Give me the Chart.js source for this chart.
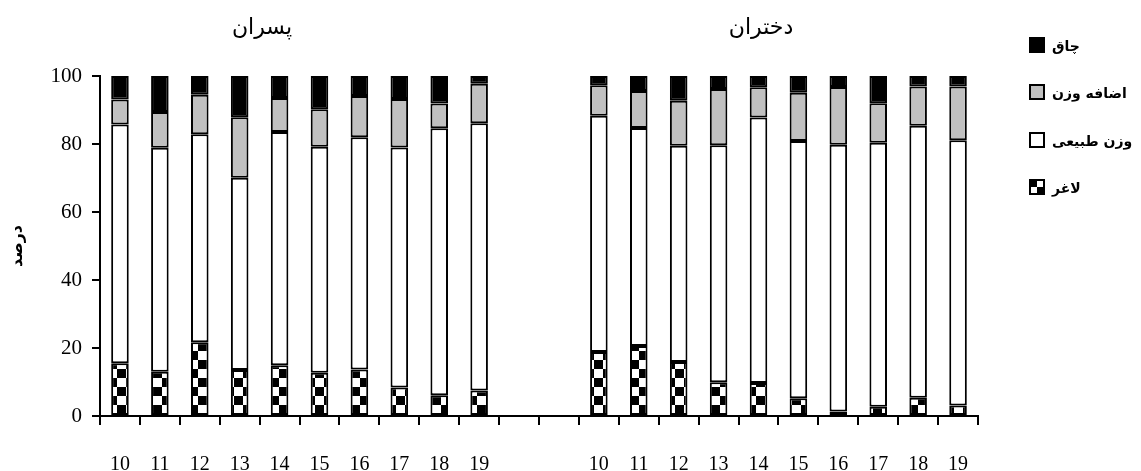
<!DOCTYPE html>
<html>
<head>
<meta charset="utf-8">
<script src="https://cdn.jsdelivr.net/npm/chart.js@4.4.0/dist/chart.umd.min.js"></script>
<style>
  html, body { margin: 0; padding: 0; background: #fff; }
  #wrap { width: 1141px; height: 471px; }
</style>
</head>
<body>
<div id="wrap"><canvas id="myChart"></canvas></div>
<script>
// age groups (same for both halves), two empty slots between the halves
const ages = ['10', '11', '12', '13', '14', '15', '16', '17', '18', '19'];
const gapLabels = ['', ''];

// boys (پسران), percent per segment
const boysThin = [15.5, 13.0, 21.7, 13.5, 14.9, 12.7, 13.7, 8.4, 6.1, 7.5];
const boysNormal = [70.2, 65.9, 61.2, 56.6, 68.6, 66.5, 68.3, 70.6, 78.5, 78.6];
const boysOver = [7.4, 10.5, 11.6, 17.8, 10.0, 11.0, 12.1, 14.2, 7.3, 11.6];
const boysObese = [6.9, 10.6, 5.5, 12.1, 6.5, 9.8, 5.9, 6.8, 8.1, 2.3];

// girls (دختران)
const girlsThin = [18.8, 20.6, 15.9, 9.9, 9.7, 5.2, 1.3, 2.7, 5.4, 3.1];
const girlsNormal = [69.5, 64.1, 63.6, 69.7, 78.1, 75.7, 78.5, 77.7, 80.0, 78.0];
const girlsOver = [9.0, 10.9, 13.2, 16.6, 8.9, 14.2, 17.0, 11.6, 11.5, 15.8];
const girlsObese = [2.7, 4.4, 7.3, 3.8, 3.3, 4.9, 3.2, 8.0, 3.1, 3.1];

const yTicks = [0, 20, 40, 60, 80, 100];
const groupTitles = ['پسران', 'دختران'];
const seriesNames = ['لاغر', 'وزن طبیعی', 'اضافه وزن', 'چاق'];

const labels = [...ages, ...gapLabels, ...ages];
const join = (b, g) => [...b, null, null, ...g];

const arabicFont = "'DejaVu Sans', sans-serif";
const numFont = "'Liberation Serif', serif";

// checkerboard fill for the underweight segment
function makeChecker(size) {
  const c = document.createElement('canvas');
  c.width = size * 2;
  c.height = size * 2;
  const g = c.getContext('2d');
  g.fillStyle = '#fff';
  g.fillRect(0, 0, size * 2, size * 2);
  g.fillStyle = '#000';
  g.fillRect(0, 0, size, size);
  g.fillRect(size, size, size, size);
  return c;
}

const ctx = document.getElementById('myChart');
const checker = ctx.getContext('2d').createPattern(makeChecker(9), 'repeat');

const fills = [checker, '#ffffff', '#c0c0c0', '#000000'];

// titles above each group + legend on the right
const extras = {
  id: 'extras',
  afterDraw(chart) {
    const c = chart.ctx;
    c.save();
    c.fillStyle = '#000';
    c.textAlign = 'center';
    c.textBaseline = 'middle';
    c.font = '22px ' + arabicFont;
    c.fillText(groupTitles[0], 262, 28);
    c.fillText(groupTitles[1], 761, 28);

    const rows = [45, 92, 140, 187];
    c.font = 'bold 14px ' + arabicFont;
    c.textAlign = 'left';
    for (let i = 0; i < 4; i++) {
      const k = 3 - i;
      const y = rows[i];
      const x = 1030;
      if (k === 0) {
        c.fillStyle = '#fff';
        c.fillRect(x, y - 7, 14, 14);
        c.fillStyle = '#000';
        c.fillRect(x, y - 7, 7, 7);
        c.fillRect(x + 7, y, 7, 7);
      } else {
        c.fillStyle = fills[k];
        c.fillRect(x, y - 7, 14, 14);
      }
      c.strokeStyle = '#000';
      c.lineWidth = 2;
      c.strokeRect(x, y - 7, 14, 14);
      c.fillStyle = '#000';
      c.fillText(seriesNames[k], 1052, y + 2);
    }
    c.restore();
  }
};

new Chart(ctx, {
  type: 'bar',
  data: {
    labels: labels,
    datasets: [
      { label: seriesNames[0], data: join(boysThin, girlsThin), backgroundColor: checker },
      { label: seriesNames[1], data: join(boysNormal, girlsNormal), backgroundColor: '#ffffff' },
      { label: seriesNames[2], data: join(boysOver, girlsOver), backgroundColor: '#c0c0c0' },
      { label: seriesNames[3], data: join(boysObese, girlsObese), backgroundColor: '#000000' },
    ].map(d => ({
      ...d,
      borderColor: '#000',
      borderWidth: 2,
      borderSkipped: false,
      barPercentage: 0.44,
      categoryPercentage: 1,
    })),
  },
  options: {
    responsive: true,
    maintainAspectRatio: false,
    animation: false,
    layout: { padding: { left: 0, top: 76, right: 163, bottom: 0 } },
    plugins: {
      legend: { display: false },
      tooltip: { enabled: false },
    },
    scales: {
      x: {
        stacked: true,
        grid: {
          offset: true,
          drawOnChartArea: false,
          drawTicks: true,
          tickLength: 9,
          color: '#000',
          lineWidth: 2,
        },
        border: { color: '#000', width: 2 },
        ticks: {
          color: '#000',
          font: { family: numFont, size: 20 },
          padding: 28,
          maxRotation: 0,
          autoSkip: false,
        },
        afterFit(scale) { scale.height = 55; },
      },
      y: {
        stacked: true,
        min: 0,
        max: 100,
        afterBuildTicks(scale) { scale.ticks = yTicks.map(v => ({ value: v })); },
        grid: {
          drawOnChartArea: false,
          drawTicks: true,
          tickLength: 8,
          color: '#000',
          lineWidth: 2,
        },
        border: { color: '#000', width: 2 },
        ticks: {
          color: '#000',
          font: { family: numFont, size: 21 },
          padding: 10,
        },
        title: {
          display: true,
          text: 'درصد',
          color: '#000',
          font: { family: arabicFont, size: 16, weight: 'bold' },
          padding: { top: 8, bottom: 0 },
        },
        afterFit(scale) { scale.width = 100; },
      },
    },
  },
  plugins: [extras],
});
</script>
</body>
</html>
